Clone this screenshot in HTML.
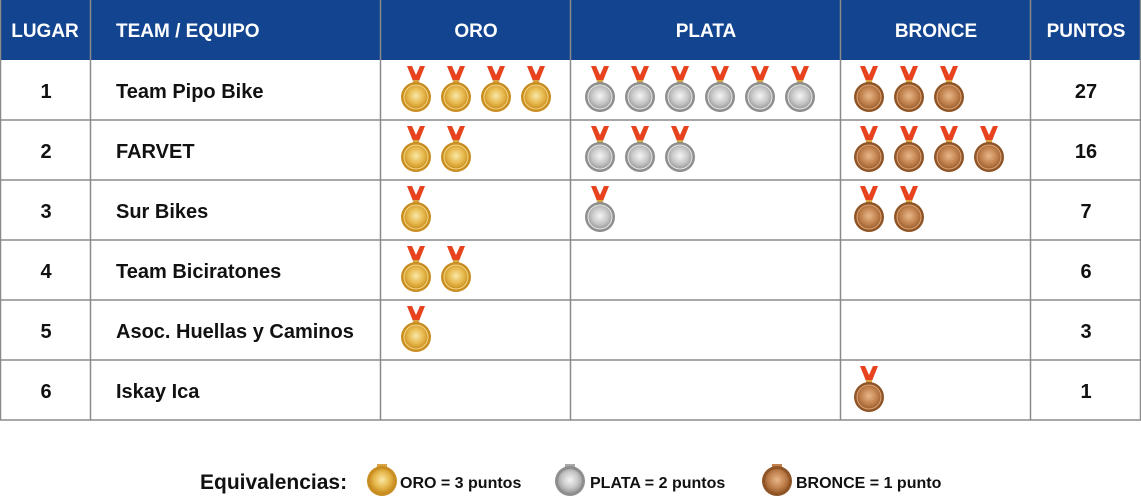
<!DOCTYPE html>
<html><head><meta charset="utf-8"><style>
html,body{margin:0;padding:0;background:#fff;width:1141px;height:501px;overflow:hidden}
text{font-family:"Liberation Sans",sans-serif;font-weight:bold}
</style></head><body>
<svg width="1141" height="501" viewBox="0 0 1141 501" xmlns="http://www.w3.org/2000/svg">
<defs>
<radialGradient id="gg" cx="50%" cy="45%" r="55%"><stop offset="0" stop-color="#fbe7a6"/><stop offset="0.6" stop-color="#e6b84c"/><stop offset="1" stop-color="#c98e22"/></radialGradient>
<radialGradient id="sg" cx="50%" cy="45%" r="55%"><stop offset="0" stop-color="#f4f4f4"/><stop offset="0.6" stop-color="#c8c8c8"/><stop offset="1" stop-color="#9a9a9a"/></radialGradient>
<radialGradient id="bg" cx="50%" cy="45%" r="55%"><stop offset="0" stop-color="#e8b78a"/><stop offset="0.6" stop-color="#c2834f"/><stop offset="1" stop-color="#9c5e2e"/></radialGradient>
<g id="rib"><path d="M-9,-31 L-4,-31 L0,-22 L4,-31 L9,-31 L3,-16 L-3,-16 Z" fill="#e8431f"/><rect x="-3" y="-17" width="6" height="3" fill="#d9a544"/></g>
<g id="gold"><use href="#rib"/><circle r="15" fill="#c98e22"/><circle r="12" fill="url(#gg)"/><circle r="12" fill="none" stroke="#f3d47e" stroke-width="1"/></g>
<g id="silver"><use href="#rib"/><circle r="15" fill="#8e8e8e"/><circle r="12" fill="url(#sg)"/><circle r="12" fill="none" stroke="#e6e6e6" stroke-width="1"/></g>
<g id="bronze"><use href="#rib"/><circle r="15" fill="#8f5527"/><circle r="12" fill="url(#bg)"/><circle r="12" fill="none" stroke="#dca274" stroke-width="1"/></g>
<g id="goldL"><rect x="-5" y="-17" width="10" height="3" fill="#d9a544"/><circle r="15" fill="#c98e22"/><circle r="12" fill="url(#gg)"/></g>
<g id="silverL"><rect x="-5" y="-17" width="10" height="3" fill="#aaa"/><circle r="15" fill="#8e8e8e"/><circle r="12" fill="url(#sg)"/></g>
<g id="bronzeL"><rect x="-5" y="-17" width="10" height="3" fill="#c2834f"/><circle r="15" fill="#8f5527"/><circle r="12" fill="url(#bg)"/></g>
</defs>
<rect x="0" y="0" width="1141" height="60" fill="#13448f"/>
<g stroke="#a8a8a8" stroke-width="2">
<line x1="0" y1="120" x2="1141" y2="120"/><line x1="0" y1="180" x2="1141" y2="180"/><line x1="0" y1="240" x2="1141" y2="240"/><line x1="0" y1="300" x2="1141" y2="300"/><line x1="0" y1="360" x2="1141" y2="360"/><line x1="0" y1="420" x2="1141" y2="420"/>
</g>
<g stroke="#8a8a8a" stroke-width="1.5">
<line x1="90.5" y1="0" x2="90.5" y2="420"/><line x1="380.5" y1="0" x2="380.5" y2="420"/><line x1="570.5" y1="0" x2="570.5" y2="420"/><line x1="840.5" y1="0" x2="840.5" y2="420"/><line x1="1030.5" y1="0" x2="1030.5" y2="420"/>
<line x1="0.5" y1="0" x2="0.5" y2="420"/><line x1="1140.5" y1="0" x2="1140.5" y2="420"/>
</g>
<g fill="#fff" font-size="19" text-anchor="middle">
<text x="45" y="37">LUGAR</text><text x="476" y="37">ORO</text><text x="706" y="37">PLATA</text><text x="936" y="37">BRONCE</text><text x="1086" y="37">PUNTOS</text>
<text x="116" y="37" text-anchor="start">TEAM / EQUIPO</text>
</g>
<g fill="#111" font-size="20">
<g text-anchor="middle"><text x="46" y="98">1</text><text x="46" y="158">2</text><text x="46" y="218">3</text><text x="46" y="278">4</text><text x="46" y="338">5</text><text x="46" y="398">6</text>
<text x="1086" y="98">27</text><text x="1086" y="158">16</text><text x="1086" y="218">7</text><text x="1086" y="278">6</text><text x="1086" y="338">3</text><text x="1086" y="398">1</text></g>
<text x="116" y="98">Team Pipo Bike</text><text x="116" y="158">FARVET</text><text x="116" y="218">Sur Bikes</text><text x="116" y="278">Team Biciratones</text><text x="116" y="338">Asoc. Huellas y Caminos</text><text x="116" y="398">Iskay Ica</text>
</g>
<use href="#gold" x="416" y="97"/><use href="#gold" x="456" y="97"/><use href="#gold" x="496" y="97"/><use href="#gold" x="536" y="97"/>
<use href="#silver" x="600" y="97"/><use href="#silver" x="640" y="97"/><use href="#silver" x="680" y="97"/><use href="#silver" x="720" y="97"/><use href="#silver" x="760" y="97"/><use href="#silver" x="800" y="97"/>
<use href="#bronze" x="869" y="97"/><use href="#bronze" x="909" y="97"/><use href="#bronze" x="949" y="97"/>
<use href="#gold" x="416" y="157"/><use href="#gold" x="456" y="157"/>
<use href="#silver" x="600" y="157"/><use href="#silver" x="640" y="157"/><use href="#silver" x="680" y="157"/>
<use href="#bronze" x="869" y="157"/><use href="#bronze" x="909" y="157"/><use href="#bronze" x="949" y="157"/><use href="#bronze" x="989" y="157"/>
<use href="#gold" x="416" y="217"/><use href="#silver" x="600" y="217"/><use href="#bronze" x="869" y="217"/><use href="#bronze" x="909" y="217"/>
<use href="#gold" x="416" y="277"/><use href="#gold" x="456" y="277"/>
<use href="#gold" x="416" y="337"/>
<use href="#bronze" x="869" y="397"/>
<text x="200" y="489" font-size="21" fill="#111">Equivalencias:</text>
<use href="#goldL" x="382" y="481"/><use href="#silverL" x="570" y="481"/><use href="#bronzeL" x="777" y="481"/>
<g font-size="16" fill="#111"><text x="400" y="488">ORO = 3 puntos</text><text x="590" y="488">PLATA = 2 puntos</text><text x="796" y="488">BRONCE = 1 punto</text></g>
</svg>
</body></html>
